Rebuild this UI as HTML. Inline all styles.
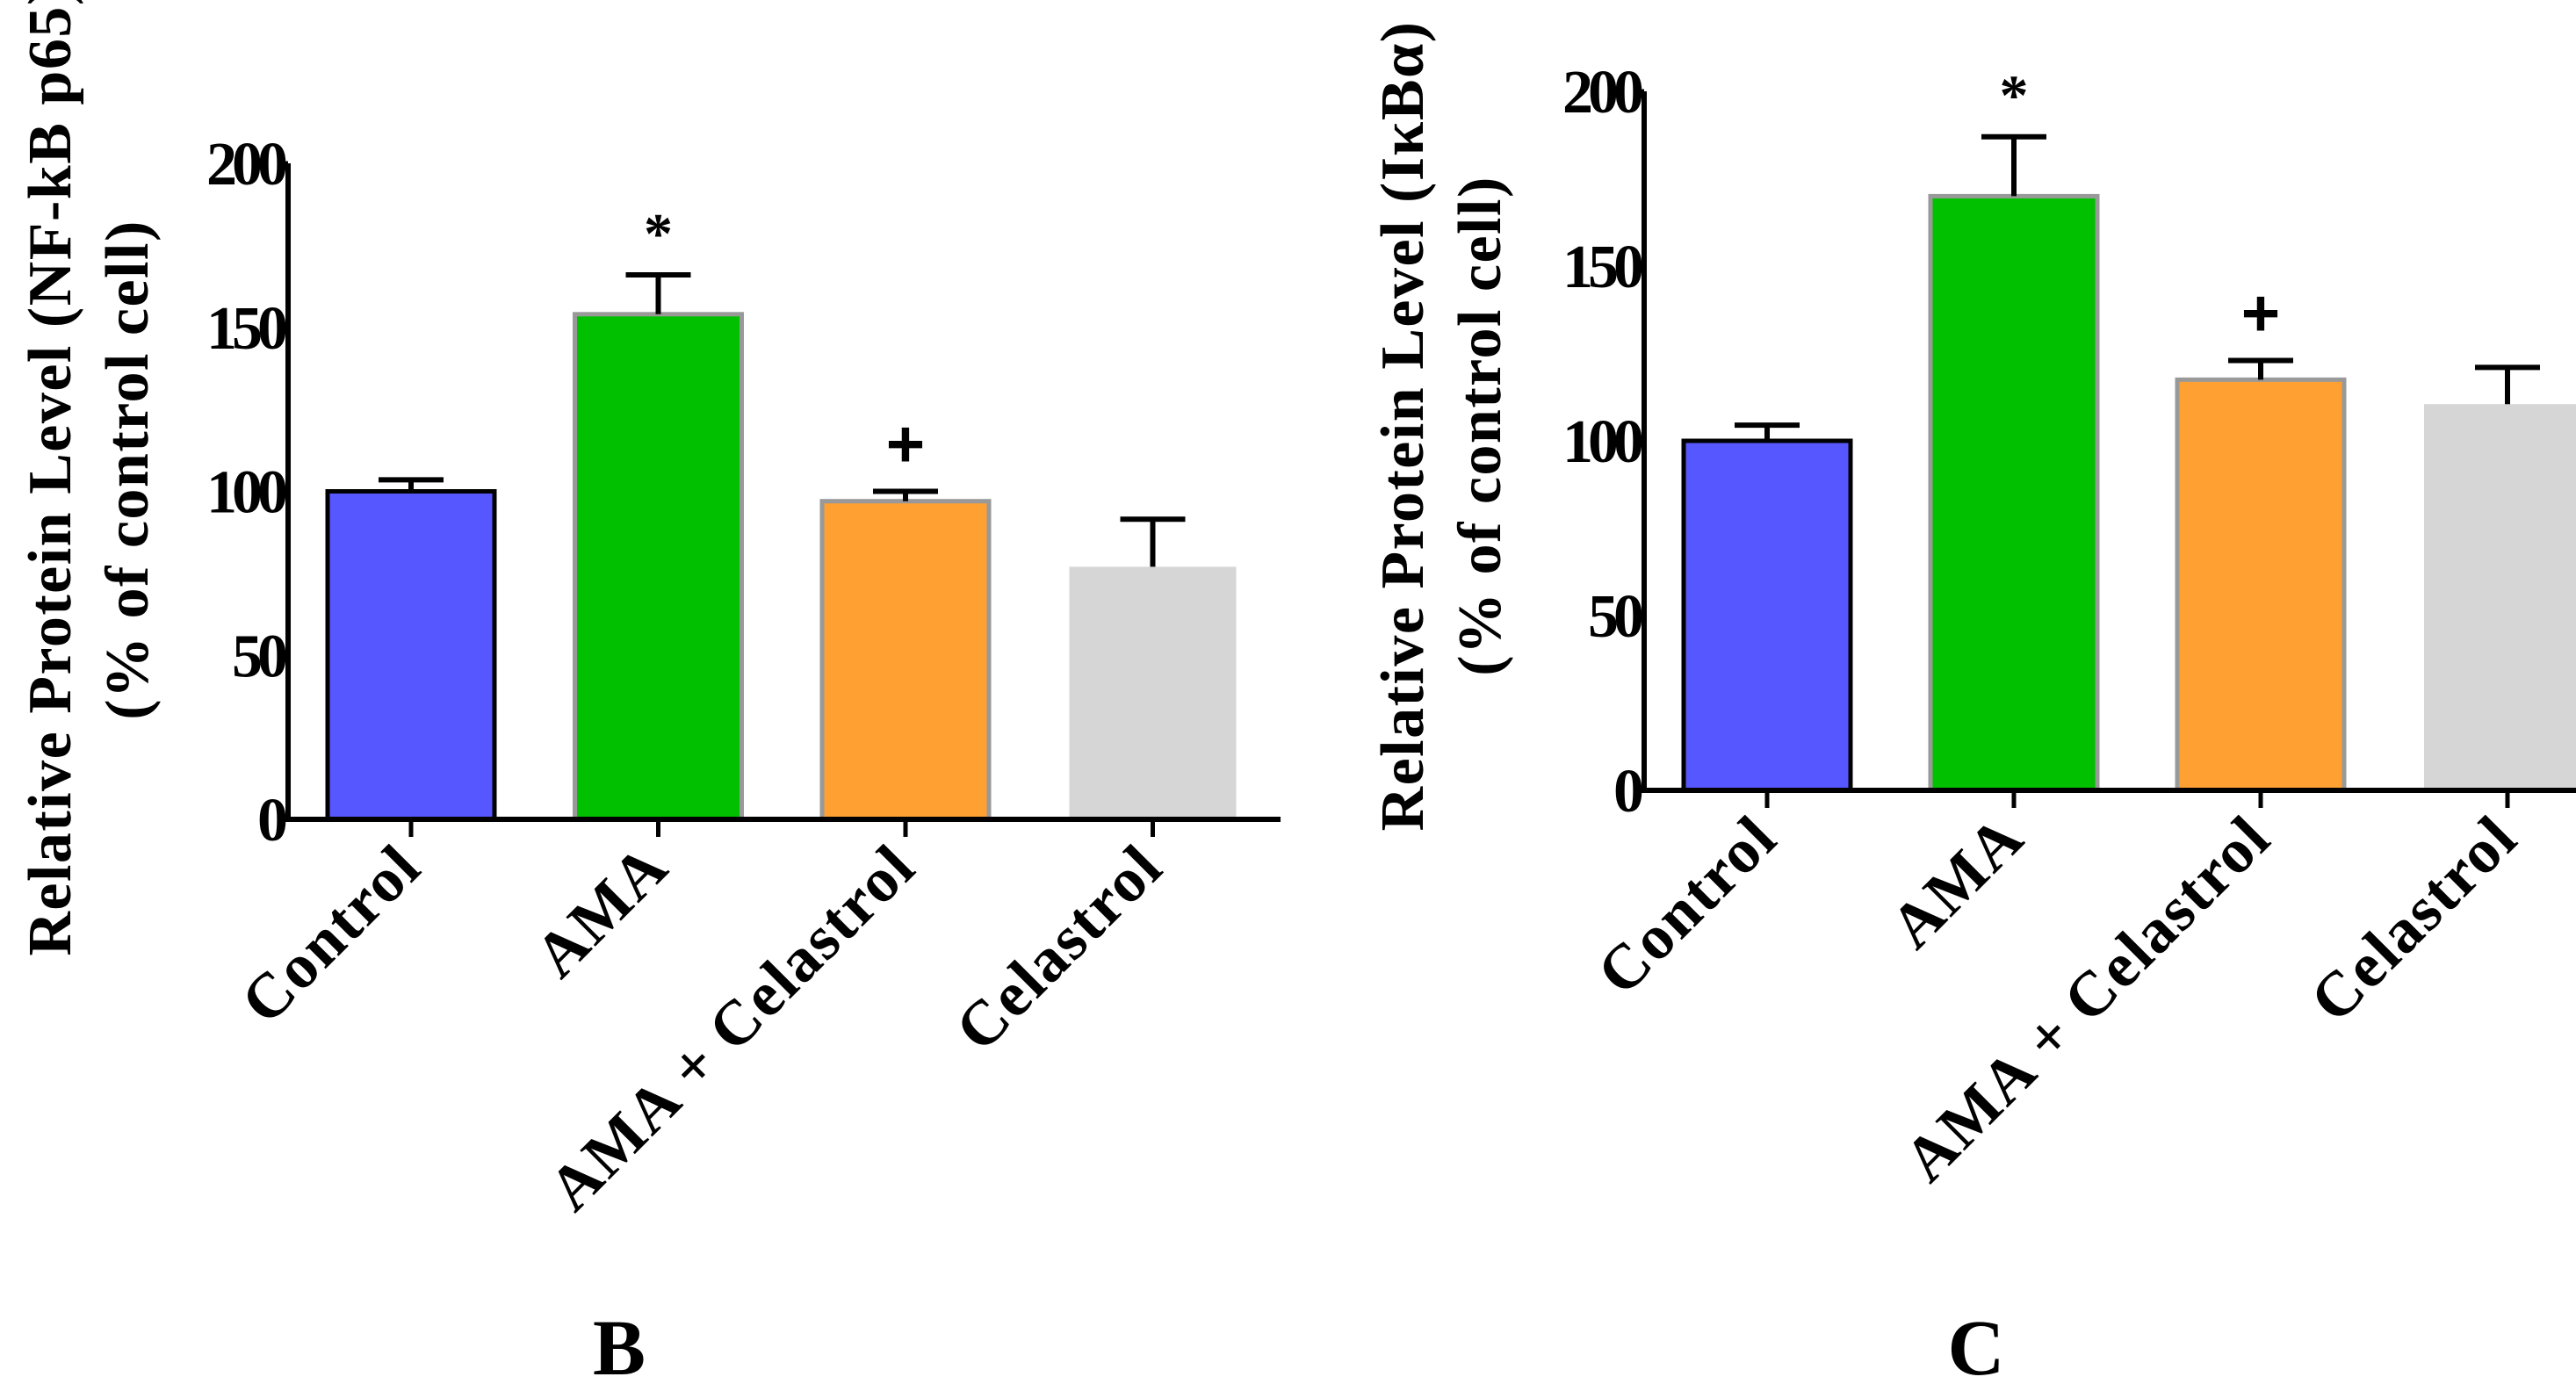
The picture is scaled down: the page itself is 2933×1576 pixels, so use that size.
<!DOCTYPE html>
<html><head><meta charset="utf-8"><style>
html,body{margin:0;padding:0;background:#fff;}
svg{display:block;font-family:"Liberation Serif",serif;font-weight:bold;}
</style></head><body>
<svg id="fig" width="2933" height="1576" viewBox="0 0 2933 1576"></svg>
<script>
const categories = ["Control", "AMA", "AMA + Celastrol", "Celastrol"];
const valuesB = [100, 154, 97, 77];
const errorsB = [3.5, 12, 3, 14.5];
const marksB = ["", "*", "+", ""];
const valuesC = [100, 170, 117.5, 110.5];
const errorsC = [4.5, 17, 5.5, 10.5];
const marksC = ["", "*", "+", ""];
const yTicks = [0, 50, 100, 150, 200];
const fills = ["#5757ff", "#00c000", "#ffa033", "#d6d6d6"];
const strokes = ["#000", "#999", "#999", "none"];

const NS = "http://www.w3.org/2000/svg";
const svg = document.getElementById("fig");
function mk(tag, attrs, parent) {
  const e = document.createElementNS(NS, tag);
  for (const k in attrs) e.setAttribute(k, attrs[k]);
  (parent || svg).appendChild(e);
  return e;
}

function chart(cfg) {
  const g = mk("g", {});
  
  
  const y = v => cfg.y0 + (cfg.y200 - cfg.y0) * v / 200;
  const x = i => cfg.x0 + cfg.step * i;
  cfg.values.forEach((v, i) => {
    const sw = strokes[i] === "none" ? 0 : 5;
    const r = mk("rect", {x: x(i) - 95, y: y(v), width: 190, height: y(0) - y(v),
      fill: fills[i], stroke: strokes[i], "stroke-width": sw}, g);
    
    
    const top = y(v + cfg.errors[i]);
    const eb = mk("path", {d: `M${x(i)},${y(v)}V${top}M${x(i)-37},${top}H${x(i)+37}`,
      stroke: "#000", "stroke-width": 6, fill: "none"}, g);
    
    
    if (cfg.marks[i]) {
      const isPlus = cfg.marks[i] === "+";
      const t = mk("text", {x: x(i), y: top - (isPlus ? 28 : 25), "text-anchor": "middle",
        "font-size": isPlus ? 76 : 66, "font-family": isPlus ? "Liberation Sans, sans-serif" : "Liberation Serif, serif"}, g);
      t.textContent = cfg.marks[i];
      
      
    }
    const tk = mk("line", {x1: x(i), x2: x(i), y1: y(0), y2: y(0) + 20, stroke: "#000", "stroke-width": 5}, g);
    
    
    const lx = x(i) + 15, ly = y(0) + 58;
    const lb = mk("text", {x: lx, y: ly, "text-anchor": "end", "font-size": 72, "letter-spacing": 2,
      transform: `rotate(-45 ${lx} ${ly})`}, g);
    lb.textContent = categories[i];
    
    
  });
  const ax = mk("path", {d: `M${cfg.xa},${y(200)}V${y(0)}M${cfg.xa - 8},${y(0)}H${cfg.xend}`,
    stroke: "#000", "stroke-width": 6, fill: "none"}, g);
  
  
  yTicks.forEach(t => {
    const l = mk("line", {x1: cfg.xa - 12, x2: cfg.xa, y1: y(t), y2: y(t), stroke: "#000", "stroke-width": 5}, g);
    
    
    const tx = mk("text", {x: cfg.xa - 6, y: y(t) + 24, "text-anchor": "end", "font-size": 70,
      "letter-spacing": -6}, g);
    tx.textContent = t;
    
    
  });
  const t1 = mk("text", {x: 0, y: 0, "text-anchor": "middle", "font-size": 70, "letter-spacing": 1.5,
    transform: `translate(${cfg.tx1},${cfg.ty}) rotate(-90)`}, g);
  t1.textContent = cfg.title;
  
  
  const t2 = mk("text", {x: 0, y: 0, "text-anchor": "middle", "font-size": 70, "letter-spacing": 1.5,
    transform: `translate(${cfg.tx1 + 88},${cfg.ty}) rotate(-90)`}, g);
  t2.textContent = "(% of control cell)";
  
  
  const p = mk("text", {x: cfg.px, y: 1565, "text-anchor": "middle", "font-size": 90}, g);
  p.textContent = cfg.panel;
  
  
}

chart({name: "chart-b-nfkb", values: valuesB, errors: errorsB, marks: marksB,
  y0: 933, y200: 186, x0: 468, step: 281.5, xa: 328, xend: 1458,
  tx1: 80, ty: 535, title: "Relative Protein Level (NF-kB p65)", panel: "B", px: 705});
chart({name: "chart-c-ikba", values: valuesC, errors: errorsC, marks: marksC,
  y0: 900, y200: 104, x0: 2012, step: 281, xa: 1872, xend: 2933,
  tx1: 1620, ty: 485, title: "Relative Protein Level (I\u03baB\u03b1)", panel: "C", px: 2250});
</script>
</body></html>
